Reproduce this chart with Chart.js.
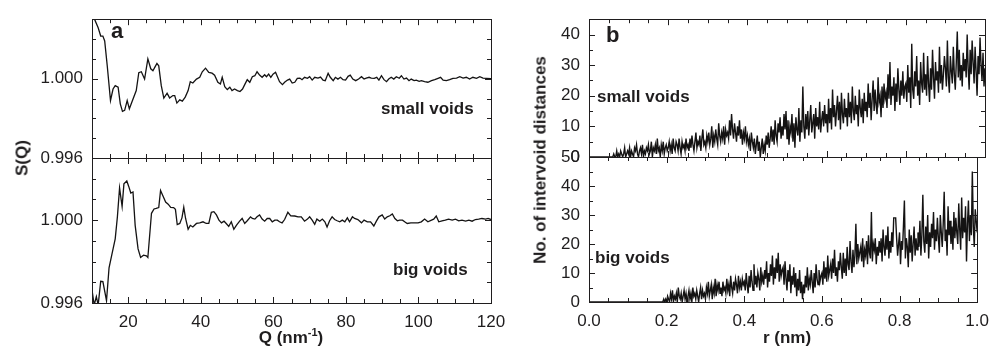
<!DOCTYPE html>
<html>
<head>
<meta charset="utf-8">
<script src="https://cdn.jsdelivr.net/npm/chart.js@4.4.1/dist/chart.umd.min.js"></script>
<style>
    html, body { margin: 0; padding: 0; background: #fff; }
    #fig { position: relative; width: 998px; height: 352px; overflow: hidden;
           font-family: 'Liberation Sans', Arial, sans-serif; color: #1f1d1e; }
    #fig canvas { position: absolute; left: 0; top: 0; }
    .lbl { position: absolute; font-weight: bold; font-size: 17px; line-height: 1; white-space: nowrap; }
    .ctr { transform: translate(-50%, -50%); }
    .rot { transform: translate(-50%, -50%) rotate(-90deg); }
    sup { font-size: 11px; line-height: 0; }
</style>
</head>
<body>
<div id="fig">
    <canvas id="aTop" width="998" height="352"></canvas>
    <canvas id="aBot" width="998" height="352"></canvas>
    <canvas id="bTop" width="998" height="352"></canvas>
    <canvas id="bBot" width="998" height="352"></canvas>

    <div class="lbl" style="left:111px;top:20px;font-size:22px">a</div>
    <div class="lbl" style="left:381px;top:100px">small voids</div>
    <div class="lbl" style="left:393px;top:261px">big voids</div>
    <div class="lbl rot" style="left:22px;top:158px">S(Q)</div>
    <div class="lbl ctr" style="left:291px;top:337px">Q (nm<sup>-1</sup>)</div>

    <div class="lbl" style="left:606px;top:24px;font-size:22px">b</div>
    <div class="lbl" style="left:597px;top:88px">small voids</div>
    <div class="lbl" style="left:595px;top:249px">big voids</div>
    <div class="lbl rot" style="left:540px;top:160px">No. of intervoid distances</div>
    <div class="lbl ctr" style="left:787px;top:337px">r (nm)</div>
</div>

<script>
// panel a : structure factor, small voids
const qSmall = [
    10, 10.7, 11.7, 12.4, 13.0, 13.5, 14.2, 15.1, 15.8, 16.4,
    17.2, 17.8, 18.4, 19.0, 19.7, 20.3, 21.0, 22.2, 22.9, 23.6,
    24.5, 25.4, 26.2, 26.8, 27.3, 27.9, 28.4, 29.1, 29.8, 30.7,
    31.4, 32.3, 32.8, 33.4, 34.2, 34.9, 35.7, 36.5, 37.1, 37.8,
    38.8, 39.7, 40.4, 41.3, 42.2, 43.1, 43.8, 44.7, 45.4, 45.9,
    46.6, 47.3, 48.0, 48.6, 49.3, 50.1, 50.8, 51.5, 52.1, 52.8,
    53.5, 54.2, 54.9, 55.5, 56.2, 56.9, 57.6, 58.1, 58.7, 59.3,
    59.9, 60.6, 61.3, 61.7, 62.5, 63.1, 63.9, 64.5, 65.2, 65.9,
    66.6, 67.3, 67.9, 68.6, 69.4, 70.0, 70.7, 71.4, 72.3, 73.0,
    73.7, 74.3, 75.1, 75.7, 76.5, 77.1, 77.8, 78.5, 79.2, 79.9,
    80.6, 81.2, 81.9, 82.7, 83.5, 84.3, 85.0, 85.6, 86.4, 87.0,
    87.8, 88.5, 89.1, 89.8, 90.5, 91.2, 91.8, 92.5, 93.2, 93.9,
    94.7, 95.3, 96.0, 96.7, 97.4, 98.0, 98.8, 99.4, 100.2, 100.8,
    101.7, 102.6, 103.6, 104.5, 105.4, 106.1, 106.8, 107.7, 108.6, 109.5,
    110.5, 111.4, 112.3, 113.2, 114.1, 115.0, 116.0, 116.9, 117.8, 118.7,
    120
];
const sSmall = [
    1.0035, 1.0030, 1.00257, 1.00215, 1.00215, 1.0019, 1.00065, 0.9989, 0.99948, 0.99965,
    0.99957, 0.99873, 0.99835, 0.9984, 0.9989, 0.99848, 0.99882, 0.9994, 1.0003, 1.00035,
    0.99998, 1.0010, 1.0005, 1.0004, 1.00057, 1.00077, 1.00065, 0.99965, 0.99902, 0.99927,
    0.99903, 0.99915, 0.99915, 0.99877, 0.99893, 0.99887, 0.99907, 0.9994, 0.99985, 0.99978,
    0.99998, 1.00007, 1.00035, 1.00053, 1.00032, 1.00028, 1.00018, 0.99982, 0.99973, 1.00007,
    0.9996, 0.99945, 0.99957, 0.9994, 0.99948, 0.9994, 0.99935, 0.99948, 0.9997, 0.99995,
    0.99982, 1.0001, 1.00015, 1.00035, 1.00018, 1.00007, 1.0002, 1.0001, 1.00023, 1.00007,
    1.00023, 1.00032, 1.00002, 0.99985, 0.9997, 0.99982, 0.99993, 0.99998, 0.99978, 0.99982,
    1.00002, 1.00003, 0.99995, 1.00007, 1.00002, 1.0001, 0.99993, 1.00007, 1.00003, 1.00008,
    0.99993, 0.9999, 1.00027, 1.00007, 0.9999, 1.00007, 0.99998, 1.00007, 0.99995, 0.99993,
    1.00012, 1.00018, 0.99998, 0.9999, 0.99998, 1.0001, 0.99998, 1.00003, 1.00007, 1.00003,
    1.00002, 1.00007, 0.99993, 1.00015, 0.99995, 0.99985, 0.99998, 1.00007, 0.99998, 1.0001,
    1.00002, 1.00015, 0.99998, 1.00003, 0.9999, 0.99998, 0.9999, 0.99993, 0.99987, 0.9999,
    0.99985, 0.99982, 0.9999, 0.99995, 1.00002, 1.00007, 0.99993, 0.9999, 0.99995, 1.00002,
    1.00003, 1.0001, 1.00003, 1.00007, 0.99998, 1.00007, 1.00002, 1.0001, 1.00003, 1.00002,
    1.0
];

// panel a : structure factor, big voids
const qBig = [
    10, 10.6, 11.2, 11.7, 12.4, 13.0, 14.0, 14.7, 15.5, 16.4,
    17.0, 17.6, 18.3, 18.8, 19.6, 20.1, 20.7, 21.3, 21.9, 22.7,
    23.4, 24.2, 25.0, 25.4, 26.4, 27.1, 27.7, 28.4, 28.9, 29.6,
    30.3, 31.0, 31.7, 32.5, 33.0, 33.5, 34.2, 34.8, 35.3, 35.8,
    36.5, 37.1, 37.8, 38.8, 39.7, 40.6, 41.5, 42.2, 42.9, 43.6,
    44.3, 45.0, 45.7, 46.4, 47.0, 47.7, 48.4, 49.1, 49.8, 50.7,
    51.4, 52.1, 52.8, 53.7, 54.2, 54.9, 55.5, 56.2, 56.9, 57.6,
    58.3, 59.0, 59.7, 60.4, 61.1, 61.7, 62.4, 63.1, 64.0, 64.8,
    65.9, 66.8, 67.7, 68.6, 69.4, 70.0, 70.7, 71.4, 72.0, 72.8,
    73.5, 74.2, 74.8, 75.5, 76.2, 76.9, 77.6, 78.3, 79.0, 79.7,
    80.4, 81.0, 81.8, 82.4, 83.3, 84.3, 85.0, 85.9, 86.8, 87.7,
    88.4, 89.1, 90.0, 90.7, 91.4, 92.1, 92.8, 93.5, 94.2, 94.8,
    95.6, 96.2, 96.9, 97.9, 98.8, 99.9, 100.8, 101.7, 102.6, 103.6,
    104.2, 104.9, 105.6, 106.5, 107.4, 108.3, 109.3, 110.2, 111.1, 112.0,
    113.0, 113.9, 114.8, 115.7, 116.6, 117.5, 118.5, 119.2, 120
];
const sBig = [
    0.99664, 0.9959, 0.99631, 0.9959, 0.99705, 0.99703, 0.99611, 0.9977, 0.99836, 0.9991,
    1.00016, 1.00156, 1.00066, 1.00175, 1.00189, 1.00164, 1.00131, 1.00136, 0.99975, 0.99861,
    0.9982, 0.99831, 0.99828, 0.9982, 1.00033, 1.00054, 1.00057, 1.00061, 1.00143, 1.00115,
    1.00087, 1.00077, 1.00062, 1.00061, 1.00052, 0.99979, 0.99984, 1.00011, 1.00062, 1.00008,
    0.99956, 0.99975, 0.99967, 0.99984, 0.99987, 0.99992, 0.99984, 0.99984, 1.00038, 1.00041,
    1.00025, 1.0, 0.99987, 0.99995, 0.99984, 0.9997, 0.99992, 0.99956, 0.99975, 0.99995,
    1.00008, 0.99984, 0.99997, 1.00016, 1.00008, 1.00005, 1.00016, 1.00025, 1.00005, 0.99995,
    1.00008, 1.00008, 0.99992, 1.0, 1.0, 0.99992, 0.99987, 1.00003, 1.00038, 1.00021,
    1.0002, 1.00016, 1.00016, 0.99995, 1.00005, 1.00016, 1.0, 0.9998, 1.00005, 0.99995,
    1.00005, 0.99992, 0.99967, 0.99997, 1.00016, 1.00003, 0.99997, 0.99992, 1.0, 0.99992,
    1.00011, 0.99992, 1.00016, 1.00008, 1.00003, 0.99987, 1.0, 0.99992, 0.99992, 0.99972,
    0.99995, 1.00016, 1.00025, 1.00005, 1.00016, 1.00021, 1.0003, 1.00008, 0.99997, 1.0,
    1.0, 0.99992, 0.99984, 0.99987, 0.99987, 0.99987, 0.99992, 1.00005, 0.99992, 1.0,
    1.00005, 1.0002, 0.99992, 0.99997, 1.0, 1.00005, 1.0, 1.00005, 0.99997, 1.0,
    0.99995, 1.0, 0.99995, 1.00003, 1.00005, 1.00008, 1.00005, 1.00008, 1.00003
];

// panel b : histograms, bins of 0.0025 nm starting at r = 0 (one row = 0.05 nm)
const BIN = 0.0025;
const countSmall = [
    0, 0, 0, 0, 0, 0, 0, 0, 0, 0, 0, 0, 0, 0, 0, 0, 0, 0, 0, 0,
    0, 0, 0, 0, 0, 1, 0, 0, 2, 0, 1, 0, 2, 1, 0, 1, 3, 0, 1, 2,
    1, 3, 0, 2, 1, 0, 3, 2, 4, 1, 0, 2, 3, 1, 4, 0, 2, 1, 3, 2,
    4, 1, 2, 5, 0, 3, 2, 4, 1, 6, 2, 3, 0, 4, 2, 5, 1, 3, 4, 2,
    3, 5, 2, 4, 1, 6, 3, 2, 5, 4, 2, 6, 3, 1, 5, 3, 4, 2, 6, 3,
    4, 2, 6, 3, 7, 4, 2, 5, 8, 3, 5, 4, 7, 2, 6, 9, 4, 5, 3, 7,
    5, 8, 4, 6, 10, 3, 7, 5, 9, 6, 4, 11, 7, 5, 8, 6, 10, 4, 9, 7,
    8, 6, 12, 7, 14, 9, 6, 11, 8, 5, 10, 7, 12, 6, 9, 4, 8, 6, 10, 5,
    7, 4, 6, 2, 8, 5, 3, 6, 1, 4, 7, 2, 5, 0, 3, 6, 1, 4, 2, 7,
    4, 8, 3, 6, 10, 5, 9, 4, 12, 7, 5, 11, 8, 13, 6, 10, 7, 14, 9, 15,
    6, 12, 4, 10, 8, 14, 5, 11, 3, 13, 9, 7, 16, 5, 12, 8, 23, 10, 6, 14,
    9, 15, 7, 12, 17, 8, 11, 14, 6, 16, 10, 13, 9, 18, 8, 12, 15, 10, 17, 11,
    14, 8, 19, 11, 16, 9, 22, 13, 17, 10, 15, 20, 12, 18, 9, 21, 14, 11, 19, 13,
    16, 10, 21, 13, 18, 11, 23, 15, 12, 20, 14, 17, 10, 22, 16, 13, 19, 11, 21, 15,
    18, 13, 24, 16, 21, 12, 19, 25, 15, 22, 17, 14, 26, 18, 20, 13, 23, 16, 24, 19,
    21, 16, 27, 19, 31, 17, 23, 20, 26, 15, 24, 18, 29, 22, 17, 25, 20, 28, 19, 23,
    24, 18, 30, 21, 26, 16, 37, 22, 19, 28, 23, 33, 20, 25, 17, 31, 24, 21, 34, 22,
    27, 20, 33, 24, 18, 29, 22, 35, 26, 19, 31, 25, 28, 21, 36, 24, 30, 22, 27, 33,
    29, 23, 38, 26, 21, 33, 28, 24, 36, 27, 22, 31, 41, 26, 35, 25, 30, 23, 34, 28,
    32, 26, 40, 29, 22, 35, 27, 38, 31, 24, 36, 28, 20, 33, 27, 39, 30, 25, 34, 23,
    29
];
const countBig = [
    0, 0, 0, 0, 0, 0, 0, 0, 0, 0, 0, 0, 0, 0, 0, 0, 0, 0, 0, 0,
    0, 0, 0, 0, 0, 0, 0, 0, 0, 0, 0, 0, 0, 0, 0, 0, 0, 0, 0, 0,
    0, 0, 0, 0, 0, 0, 0, 0, 0, 0, 0, 0, 0, 0, 0, 0, 0, 0, 0, 0,
    0, 0, 0, 0, 0, 0, 0, 0, 0, 0, 0, 0, 0, 0, 0, 0, 0, 1, 0, 1,
    0, 2, 1, 0, 3, 1, 4, 0, 2, 1, 3, 0, 5, 2, 1, 3, 0, 2, 4, 1,
    3, 0, 2, 4, 1, 3, 0, 5, 2, 3, 1, 4, 2, 0, 3, 5, 1, 4, 2, 3,
    1, 5, 3, 7, 2, 4, 6, 1, 5, 3, 8, 2, 6, 4, 7, 3, 5, 2, 7, 4,
    5, 3, 8, 4, 6, 2, 9, 5, 3, 7, 4, 8, 6, 3, 9, 5, 7, 4, 8, 6,
    7, 4, 10, 6, 3, 9, 5, 11, 7, 4, 13, 6, 9, 5, 10, 8, 4, 12, 7, 9,
    6, 11, 8, 14, 5, 10, 7, 13, 9, 16, 6, 12, 8, 15, 10, 17, 7, 13, 9, 11,
    12, 6, 14, 8, 4, 11, 7, 13, 3, 9, 6, 12, 5, 10, 2, 8, 4, 11, 3, 7,
    1, 6, 3, 9, 5, 12, 4, 8, 6, 11, 7, 3, 10, 5, 13, 8, 6, 11, 7, 9,
    10, 6, 14, 8, 12, 7, 16, 9, 11, 13, 8, 15, 10, 18, 9, 12, 7, 14, 11, 17,
    12, 8, 17, 10, 15, 9, 19, 13, 11, 21, 14, 10, 18, 12, 16, 27, 13, 20, 15, 17,
    19, 14, 22, 12, 18, 16, 21, 13, 23, 17, 15, 31, 14, 20, 18, 22, 13, 19, 16, 21,
    17, 22, 14, 25, 19, 16, 23, 18, 26, 15, 21, 17, 24, 19, 29, 29, 29, 22, 16, 20,
    24, 13, 21, 18, 26, 35, 15, 22, 19, 12, 25, 17, 23, 14, 20, 26, 16, 22, 18, 24,
    19, 28, 16, 23, 37, 21, 17, 26, 20, 30, 15, 24, 19, 27, 22, 31, 18, 25, 21, 29,
    22, 17, 30, 24, 19, 27, 38, 21, 25, 16, 33, 23, 28, 20, 26, 18, 31, 22, 29, 24,
    20, 34, 25, 18, 36, 22, 29, 24, 33, 14, 27, 35, 21, 30, 23, 45, 26, 19, 32, 28,
    24
];

// tick labels
const qTicks = [20, 40, 60, 80, 100, 120];
const sTicks = [0.996, 1.000];
const rTicks = [0, 0.2, 0.4, 0.6, 0.8, 1.0];
const nTicksTop = [0, 10, 20, 30, 40];
const nTicksBot = [0, 10, 20, 30, 40, 50];

const INK = '#1f1d1e';
const tickFont = { family: "'Liberation Sans', Arial, sans-serif", size: 17 };

// frame on all four sides + inward ticks (major/minor) drawn from the scales
const frameTicks = {
    id: 'frameTicks',
    afterDatasetsDraw(chart, args, opts) {
        const { ctx, chartArea: a, scales } = chart;
        const px = v => Math.round(v) + 0.5;
        const marks = (min, max, minor, major) => {
            const out = [];
            for (let k = Math.ceil(min / minor - 1e-6); k * minor <= max + 1e-9; k++) {
                const v = k * minor;
                const r = v / major;
                out.push([v, Math.abs(r - Math.round(r)) < 1e-6]);
            }
            return out;
        };
        ctx.save();
        ctx.strokeStyle = INK;
        ctx.lineWidth = 1;
        ctx.beginPath();
        marks(scales.x.min, scales.x.max, opts.x[0], opts.x[1]).forEach(([v, big]) => {
            const x = px(scales.x.getPixelForValue(v));
            const len = big ? 6 : 4;
            ctx.moveTo(x, a.top); ctx.lineTo(x, a.top + len);
            ctx.moveTo(x, a.bottom); ctx.lineTo(x, a.bottom - len);
        });
        marks(scales.y.min, scales.y.max, opts.y[0], opts.y[1]).forEach(([v, big]) => {
            const y = px(scales.y.getPixelForValue(v));
            const len = big ? 6 : 4;
            ctx.moveTo(a.left, y); ctx.lineTo(a.left + len, y);
            ctx.moveTo(a.right, y); ctx.lineTo(a.right - len, y);
        });
        ctx.stroke();
        ctx.strokeRect(px(a.left), px(a.top), Math.round(a.right - a.left), Math.round(a.bottom - a.top));
        ctx.restore();
    }
};

function subplot(id, box, xs, ys, points, lw) {
    const yW = 60;
    const xH = xs.labels ? 30 : 0;
    return new Chart(document.getElementById(id), {
        type: 'line',
        data: {
            datasets: [{
                data: points,
                borderColor: '#141313',
                borderWidth: lw,
                pointRadius: 0,
                tension: 0,
                fill: false
            }]
        },
        options: {
            responsive: false,
            animation: false,
            events: [],
            layout: {
                padding: { left: box.l - yW, right: 998 - box.r, top: box.t, bottom: 352 - box.b - xH }
            },
            plugins: {
                legend: { display: false },
                tooltip: { enabled: false },
                frameTicks: { x: xs.marks, y: ys.marks }
            },
            scales: {
                x: {
                    type: 'linear',
                    min: xs.min,
                    max: xs.max,
                    grid: { display: false, drawTicks: false },
                    border: { display: false },
                    ticks: {
                        display: !!xs.labels,
                        padding: 9,
                        color: INK,
                        font: tickFont,
                        maxRotation: 0,
                        callback: xs.fmt
                    },
                    afterBuildTicks: s => { s.ticks = (xs.labels || []).map(v => ({ value: v })); },
                    afterFit: s => { s.height = xH; }
                },
                y: {
                    type: 'linear',
                    min: ys.min,
                    max: ys.max,
                    grid: { display: false, drawTicks: false },
                    border: { display: false },
                    ticks: { padding: 9, color: INK, font: tickFont, callback: ys.fmt },
                    afterBuildTicks: s => { s.ticks = ys.labels.map(v => ({ value: v })); },
                    afterFit: s => { s.width = yW; }
                }
            }
        },
        plugins: [frameTicks]
    });
}

const toXY = (xv, yv) => xv.map((x, i) => ({ x: x, y: yv[i] }));
const binsOf = arr => arr.map((_, i) => +(i * BIN).toFixed(4));

const qAxis = { min: 10, max: 120, marks: [5, 20], fmt: v => String(v) };
const sAxis = { min: 0.996, max: 1.003, marks: [0.001, 0.004], labels: sTicks, fmt: v => v.toFixed(3) };
const rAxis = { min: 0, max: 1, marks: [0.05, 0.2], fmt: v => v.toFixed(1) };

subplot('aTop', { l: 92, r: 491, t: 17, b: 158 }, qAxis, sAxis, toXY(qSmall, sSmall), 1.3);
subplot('aBot', { l: 92, r: 491, t: 158, b: 303 }, Object.assign({}, qAxis, { labels: qTicks }), sAxis, toXY(qBig, sBig), 1.3);
subplot('bTop', { l: 589, r: 985, t: 17, b: 157 }, rAxis,
    { min: 0, max: 45, marks: [5, 10], labels: nTicksTop, fmt: v => String(v) },
    toXY(binsOf(countSmall), countSmall), 1.4);
subplot('bBot', { l: 589, r: 985, t: 157, b: 302 }, Object.assign({}, rAxis, { labels: rTicks }),
    { min: 0, max: 50, marks: [5, 10], labels: nTicksBot, fmt: v => String(v) },
    toXY(binsOf(countBig), countBig), 1.4);
</script>
</body>
</html>
